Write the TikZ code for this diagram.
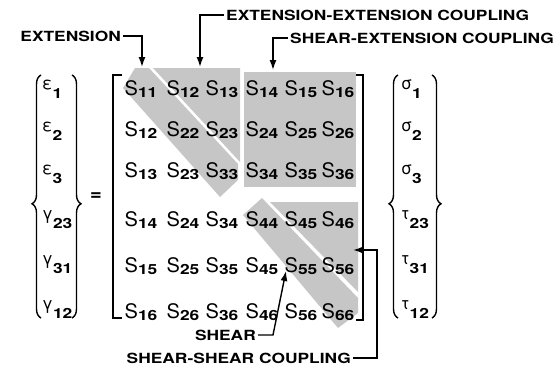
\documentclass[tikz,border=0pt]{standalone}
\usepackage{fontspec}
\setmainfont{TeX Gyre Heros}
\newfontfamily\lblfont[FakeStretch=1.24]{TeX Gyre Heros}
\usetikzlibrary{arrows.meta,decorations.pathreplacing}

\newcommand{\subtxt}{\lblfont\bfseries\fontsize{14}{14}\selectfont}
\newcommand{\Sent}[1]{S\raisebox{-2pt}{\subtxt #1}}
\newcommand{\vent}[2]{\raisebox{9pt}{\fontsize{17}{17}\selectfont #1}{\subtxt #2}}

\tikzset{
  lbl/.style={font=\lblfont\bfseries\fontsize{14}{14}\selectfont, inner sep=2pt},
  ent/.style={anchor=base, inner sep=0pt, font=\fontsize{20}{20}\selectfont},
  vec/.style={anchor=base west, inner sep=0pt},
  shade/.style={fill=gray!45},
  arr/.style={line width=1.4pt, -{Latex[length=10pt,width=7pt]}},
  brk/.style={line width=1.8pt},
  brc/.style={line width=1.4pt, decorate, decoration={brace, amplitude=9pt, #1}},
}

\begin{document}
\begin{tikzpicture}[x=1pt, y=-1pt]
\useasboundingbox (0,0) rectangle (558,368);
% shaded blocks
\fill[shade] (123,88) -- (135,68) -- (149,68) -- (238,164) -- (238,180) -- (220,197) -- cycle;
\fill[shade] (153,68) -- (240,68) -- (240,162) -- cycle;
\fill[shade] (244,72) rectangle (356,187);
\fill[shade] (243,215) -- (262,198) -- (358,298) -- (358,313) -- (338,328) -- cycle;
\fill[shade] (270,202) -- (358,202) -- (358,292) -- cycle;

% compliance matrix
\foreach \r/\ry in {1/95,2/136,3/177,4/226,5/272,6/318}
  \foreach \c/\cx in {1/141,2/183,3/222,4/262,5/301,6/338} {
    \pgfmathtruncatemacro\lo{min(\r,\c)}
    \pgfmathtruncatemacro\hi{max(\r,\c)}
    \node[ent] (s\r\c) at (\cx,\ry) {\Sent{\lo\hi}};
  }
\draw[brk] (122,75) -- (113,75) -- (113,318) -- (122,318);
\draw[brk] (356,75) -- (363,75) -- (363,320) -- (356,320);

% strain and stress vectors
\draw[brc={aspect=0.47}] (41,318) -- (41,75);
\draw[brc={aspect=0.53}] (72,75) -- (72,318);
\node[vec] (e1) at (42,98) {\vent{ε}{1}};
\node[vec] (e2) at (42,140) {\vent{ε}{2}};
\node[vec] (e3) at (42,183) {\vent{ε}{3}};
\node[vec] (g23) at (42,228) {\vent{γ}{23}};
\node[vec] (g31) at (42,273) {\vent{γ}{31}};
\node[vec] (g12) at (42,318) {\vent{γ}{12}};
\node[font=\bfseries\fontsize{20}{20}\selectfont] (eq) at (96,197) {=};
\draw[brc={aspect=0.47}] (398,318) -- (398,75);
\draw[brc={aspect=0.53}] (432,75) -- (432,318);
\node[vec] (sg1) at (401,98) {\vent{σ}{1}};
\node[vec] (sg2) at (401,140) {\vent{σ}{2}};
\node[vec] (sg3) at (401,183) {\vent{σ}{3}};
\node[vec] (t23) at (401,228) {\vent{τ}{23}};
\node[vec] (t31) at (401,273) {\vent{τ}{31}};
\node[vec] (t12) at (401,318) {\vent{τ}{12}};

% labels
\node[lbl, anchor=east] (ext) at (123,36) {EXTENSION};
\node[lbl, anchor=west] (exex) at (224,15) {EXTENSION-EXTENSION COUPLING};
\node[lbl, anchor=west] (shex) at (288,38) {SHEAR-EXTENSION COUPLING};
\node[lbl, anchor=east] (sh) at (258,335) {SHEAR};
\node[lbl, anchor=east] (shsh) at (353,358) {SHEAR-SHEAR COUPLING};
\coordinate (extip) at (142,67);
\coordinate (exextip) at (200,67);
\coordinate (shextip) at (273,70);
\coordinate (shbend) at (273,335);
\coordinate (shtip) at (286,271);
\coordinate (shshbend) at (377,250);
\coordinate (shshtip) at (353,250);
\draw[arr] (ext.east) -| (extip);
\draw[arr] (exex.west) -| (exextip);
\draw[arr] (shex.west) -| (shextip);
\draw[arr] (sh.east) -- (shbend) -- (shtip);
\draw[arr] (shsh.east) -| (shshbend) -- (shshtip);
\end{tikzpicture}
\end{document}
